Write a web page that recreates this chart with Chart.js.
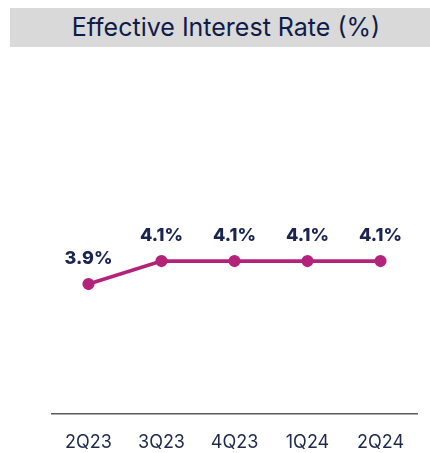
<!DOCTYPE html>
<html><head><meta charset="utf-8">
<script src="https://cdn.jsdelivr.net/npm/chart.js@4"></script>
<style>
html,body{margin:0;padding:0;background:#fff;width:430px;height:453px;overflow:hidden;font-family:Inter,"Noto Sans",sans-serif;}
#banner{position:absolute;left:10px;top:8px;width:408px;padding-left:12px;height:39px;background:#d9d9d9;color:#0f1c48;font-size:25px;line-height:39px;text-align:center;font-family:Inter,sans-serif;}
#wrap{position:absolute;left:0;top:0;width:430px;height:453px;}
</style></head>
<body>
<div id="wrap"><canvas id="c" width="430" height="453"></canvas></div>
<div id="banner">Effective Interest Rate (%)</div>
<script>
const categories = ["2Q23","3Q23","4Q23","1Q24","2Q24"];
const rates = [3.9, 4.1, 4.1, 4.1, 4.1];
const rateLabels = ["3.9%","4.1%","4.1%","4.1%","4.1%"];

const labelPlugin = {
  id:'valLabels',
  afterDatasetsDraw(chart){
    const ctx = chart.ctx;
    const meta = chart.getDatasetMeta(0);
    ctx.save();
    ctx.font = '800 18px Inter, sans-serif';
    ctx.fillStyle = '#1a2550';
    ctx.textAlign = 'center';
    ctx.textBaseline = 'middle';
    meta.data.forEach((p,i)=>{
      ctx.fillText(rateLabels[i], p.x, p.y - 25);
    });
    ctx.restore();
  }
};

new Chart(document.getElementById('c'), {
  type:'line',
  data:{labels:categories, datasets:[{data:rates, borderColor:'#b3237a', backgroundColor:'#b3237a', borderWidth:3.8, pointRadius:4.2, pointHoverRadius:4.2, tension:0}]},
  options:{
    responsive:false, animation:false,
    layout:{padding:{left:52,right:13,top:100,bottom:3}},
    plugins:{legend:{display:false},tooltip:{enabled:false},title:{display:false}},
    scales:{
      x:{offset:true, grid:{display:false, drawTicks:false}, border:{display:true,color:'#5a5a5a',width:1.5},
         ticks:{padding:18,color:'#1d2a4a',font:{family:'Inter',size:18}},
         afterFit(s){ s.height = 36; }},
      y:{display:false,min:2.77,max:5.5}
    }
  },
  plugins:[labelPlugin]
});
</script>
</body></html>
